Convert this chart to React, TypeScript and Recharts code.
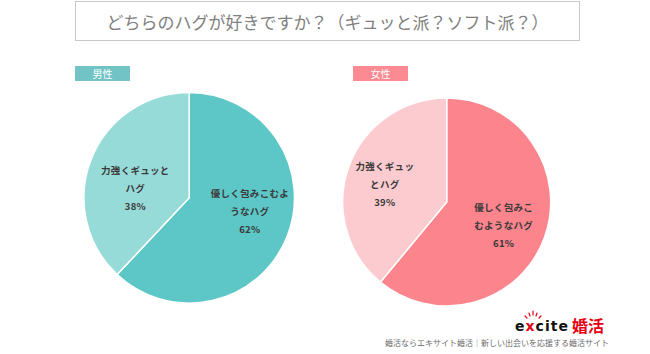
import { PieChart, Pie, Cell } from "recharts"

// ---------------------------------------------------------------------------
// Data
// ---------------------------------------------------------------------------

const categories = ["優しく包みこむようなハグ", "力強くギュッとハグ"]
const maleValues = [62, 38]
const femaleValues = [61, 39]

// label text as wrapped in the original
const maleLabelLines = [["優しく包みこむよ", "うなハグ"], ["力強くギュッと", "ハグ"]]
const femaleLabelLines = [["優しく包みこ", "むようなハグ"], ["力強くギュッ", "とハグ"]]

const maleColors = ["#5CC7C6", "#97DBD9"]
const femaleColors = ["#FC848C", "#FCCBCF"]

const FONT = '"Noto Sans CJK JP", "Noto Sans", sans-serif'
const RADIAN = Math.PI / 180

function makeLabel(lines: string[][], values: number[], factors: number[], shifts: number[]) {
  return (props: any) => {
    const { cx, cy, midAngle, outerRadius, index } = props
    const r = outerRadius * factors[index]
    const a = (midAngle + shifts[index]) * RADIAN
    const x = cx + r * Math.cos(-a)
    const y = cy + r * Math.sin(-a)
    const rows = [...lines[index], `${values[index]}%`]
    const step = 18
    const y0 = y - ((rows.length - 1) * step) / 2
    return (
      <text
        key={`lbl-${index}`}
        x={x}
        y={y0}
        textAnchor="middle"
        dominantBaseline="central"
        fontFamily={FONT}
        fontSize={9.5}
        fontWeight={700}
        fill="#3a3a3a"
        letterSpacing={0.3}
      >
        {rows.map((t, i) => (
          <tspan key={i} x={x} y={y0 + i * step}>
            {t}
          </tspan>
        ))}
      </text>
    )
  }
}

export default function App() {
  const maleData = categories.map((name, i) => ({ name, value: maleValues[i] }))
  const femaleData = categories.map((name, i) => ({ name, value: femaleValues[i] }))

  return (
    <div
      style={{
        position: "absolute",
        left: 0,
        top: 0,
        width: 650,
        height: 354,
        background: "#fff",
        fontFamily: FONT,
        overflow: "hidden",
      }}
    >
      {/* title */}
      <div
        style={{
          position: "absolute",
          left: 75,
          top: 1,
          width: 505,
          height: 40,
          border: "1px solid #c8c8c8",
          boxSizing: "border-box",
          display: "flex",
          alignItems: "center",
          justifyContent: "center",
          color: "#808080",
          fontSize: 17,
        }}
      >
        どちらのハグが好きですか？（ギュッと派？ソフト派？）
      </div>

      {/* badges */}
      <div
        style={{
          position: "absolute",
          left: 75,
          top: 66,
          width: 55,
          height: 15,
          background: "#72C3C6",
          color: "#fff",
          fontSize: 10,
          lineHeight: "15px",
          textAlign: "center",
        }}
      >
        男性
      </div>
      <div
        style={{
          position: "absolute",
          left: 353,
          top: 66,
          width: 55,
          height: 15,
          background: "#FC8A92",
          color: "#fff",
          fontSize: 10,
          lineHeight: "15px",
          textAlign: "center",
        }}
      >
        女性
      </div>

      <div style={{ position: "absolute", left: 0, top: 0 }}>
        <PieChart width={650} height={354} margin={{ top: 0, right: 0, bottom: 0, left: 0 }}>
          <Pie
            data={maleData}
            dataKey="value"
            cx={189.2}
            cy={197.8}
            outerRadius={105.3}
            startAngle={90}
            endAngle={-270}
            stroke="#fff"
            strokeWidth={1.5}
            labelLine={false}
            label={makeLabel(maleLabelLines, maleValues, [0.59, 0.52], [9, 11])}
            isAnimationActive={false}
          >
            {maleData.map((_, i) => (
              <Cell key={i} fill={maleColors[i]} />
            ))}
          </Pie>
          <Pie
            data={femaleData}
            dataKey="value"
            cx={446.7}
            cy={202}
            outerRadius={104}
            startAngle={90}
            endAngle={-270}
            stroke="#fff"
            strokeWidth={1.5}
            labelLine={false}
            label={makeLabel(femaleLabelLines, femaleValues, [0.59, 0.62], [-2, 3.5])}
            isAnimationActive={false}
          >
            {femaleData.map((_, i) => (
              <Cell key={i} fill={femaleColors[i]} />
            ))}
          </Pie>
        </PieChart>
      </div>

      {/* logo */}
      <svg
        style={{ position: "absolute", left: 510, top: 310 }}
        width={100}
        height={26}
      >
        <g stroke="#e60012" strokeWidth={1.2} strokeLinecap="round">
          <line x1={20} y1={6} x2={19} y2={3} />
          <line x1={23} y1={5} x2={23} y2={1} />
          <line x1={26} y1={6} x2={27} y2={3} />
          <line x1={17} y1={8} x2={15} y2={6} />
          <line x1={29} y1={8} x2={31} y2={6} />
        </g>
        <text
          x={5}
          y={21}
          fontFamily='"DejaVu Sans", sans-serif'
          fontWeight={700}
          fontSize={14}
          fill="#111"
          textLength={53}
        >
          e<tspan fill="#e60012">x</tspan>cite
        </text>
        <text x={62} y={22} fontFamily={FONT} fontWeight={700} fontSize={16} fill="#e60012">
          婚活
        </text>
      </svg>

      {/* footer */}
      <div
        style={{
          position: "absolute",
          left: 385,
          top: 337,
          fontSize: 8,
          color: "#6a6a6a",
          whiteSpace: "nowrap",
          lineHeight: "12px",
        }}
      >
        婚活ならエキサイト婚活｜新しい出会いを応援する婚活サイト
      </div>
    </div>
  )
}
